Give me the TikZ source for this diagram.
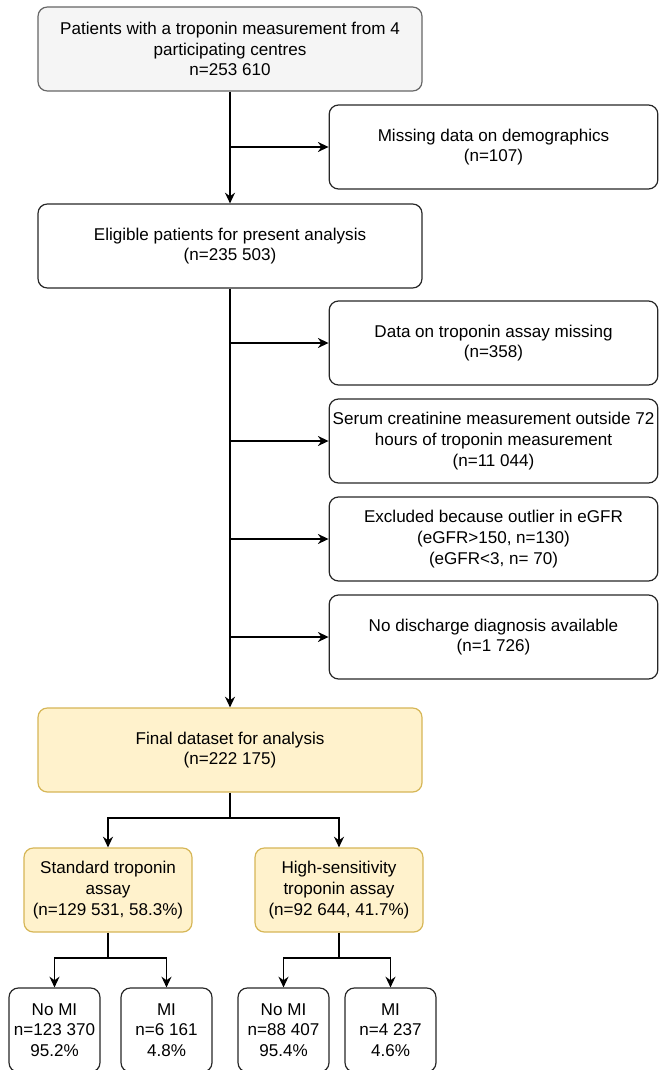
\documentclass[tikz,border=0pt]{standalone}
\usepackage{fontspec}
\setmainfont{Liberation Sans}
\usetikzlibrary{arrows.meta}
\definecolor{greyfill}{HTML}{F5F5F5}
\definecolor{greyline}{HTML}{666666}
\definecolor{yellowfill}{HTML}{FFF2CC}
\definecolor{yellowline}{HTML}{D6B656}
\begin{document}
\begin{tikzpicture}[x=0.75pt, y=-0.75pt,
    box/.style={draw=black!85, line width=0.9pt, rounded corners=7pt, align=center,
      inner sep=1pt, font=\fontsize{12.8}{15.6}\selectfont},
    mainbox/.style={box, minimum width=288pt, minimum height=63pt},
    sidebox/.style={box, minimum width=246.5pt, minimum height=63pt},
    midbox/.style={box, fill=yellowfill, draw=yellowline, minimum width=126pt, minimum height=63pt},
    leafbox/.style={box, minimum width=68.25pt, minimum height=63pt},
    arr/.style={line width=1.1pt, -{Stealth[length=8pt,width=7.5pt]}},
    ln/.style={line width=1.1pt}]
    \useasboundingbox (0,0) rectangle (660,1070);
    % Main column
    \node[mainbox, fill=greyfill, draw=greyline] (start) at (230,49)
      {Patients with a troponin measurement from 4\\participating centres\\n=253 610};
    \node[mainbox] (elig) at (230,246)
      {Eligible patients for present analysis\\(n=235 503)};
    \node[mainbox, fill=yellowfill, draw=yellowline] (final) at (230,750)
      {Final dataset for analysis\\(n=222 175)};
    % Exclusions on the right
    \node[sidebox] (miss) at (493.5,147) {Missing data on demographics\\(n=107)};
    \node[sidebox] (assay) at (493.5,343) {Data on troponin assay missing\\(n=358)};
    \node[sidebox] (serum) at (493.5,441)
      {Serum creatinine measurement outside 72\\hours of troponin measurement\\(n=11 044)};
    \node[sidebox] (egfr) at (493.5,539)
      {Excluded because outlier in eGFR\\(eGFR>150, n=130)\\(eGFR<3, n= 70)};
    \node[sidebox] (disch) at (493.5,637) {No discharge diagnosis available\\(n=1 726)};
    % Assay groups
    \node[midbox] (std) at (108,890) {Standard troponin\\assay\\(n=129 531, 58.3\%)};
    \node[midbox] (hs) at (339,890) {High-sensitivity\\troponin assay\\(n=92 644, 41.7\%)};
    % Outcomes
    \node[leafbox] (stdno) at (54.5,1030) {No MI\\n=123 370\\95.2\%};
    \node[leafbox] (stdmi) at (166.5,1030) {MI\\n=6 161\\4.8\%};
    \node[leafbox] (hsno) at (283.5,1030) {No MI\\n=88 407\\95.4\%};
    \node[leafbox] (hsmi) at (390.5,1030) {MI\\n=4 237\\4.6\%};
    % Junctions on the main line
    \coordinate (j1) at (230,147);
    \coordinate (j2) at (230,343);
    \coordinate (j3) at (230,441);
    \coordinate (j4) at (230,539);
    \coordinate (j5) at (230,637);
    \coordinate (b0) at (230,818);
    \coordinate (b1) at (108,958);
    \coordinate (b2) at (339,958);
    % Main flow
    \draw[arr] (start) -- (elig);
    \draw[arr] (elig) -- (final);
    \foreach \j/\t in {j1/miss, j2/assay, j3/serum, j4/egfr, j5/disch}
      \draw[arr] (\j) -- (\t);
    % Split by assay
    \draw[ln] (final) -- (b0);
    \draw[arr] (b0) -| (std);
    \draw[arr] (b0) -| (hs);
    \draw[ln] (std) -- (b1);
    \draw[arr] (b1) -| (stdno);
    \draw[arr] (b1) -| (stdmi);
    \draw[ln] (hs) -- (b2);
    \draw[arr] (b2) -| (hsno);
    \draw[arr] (b2) -| (hsmi);
\end{tikzpicture}
\end{document}
